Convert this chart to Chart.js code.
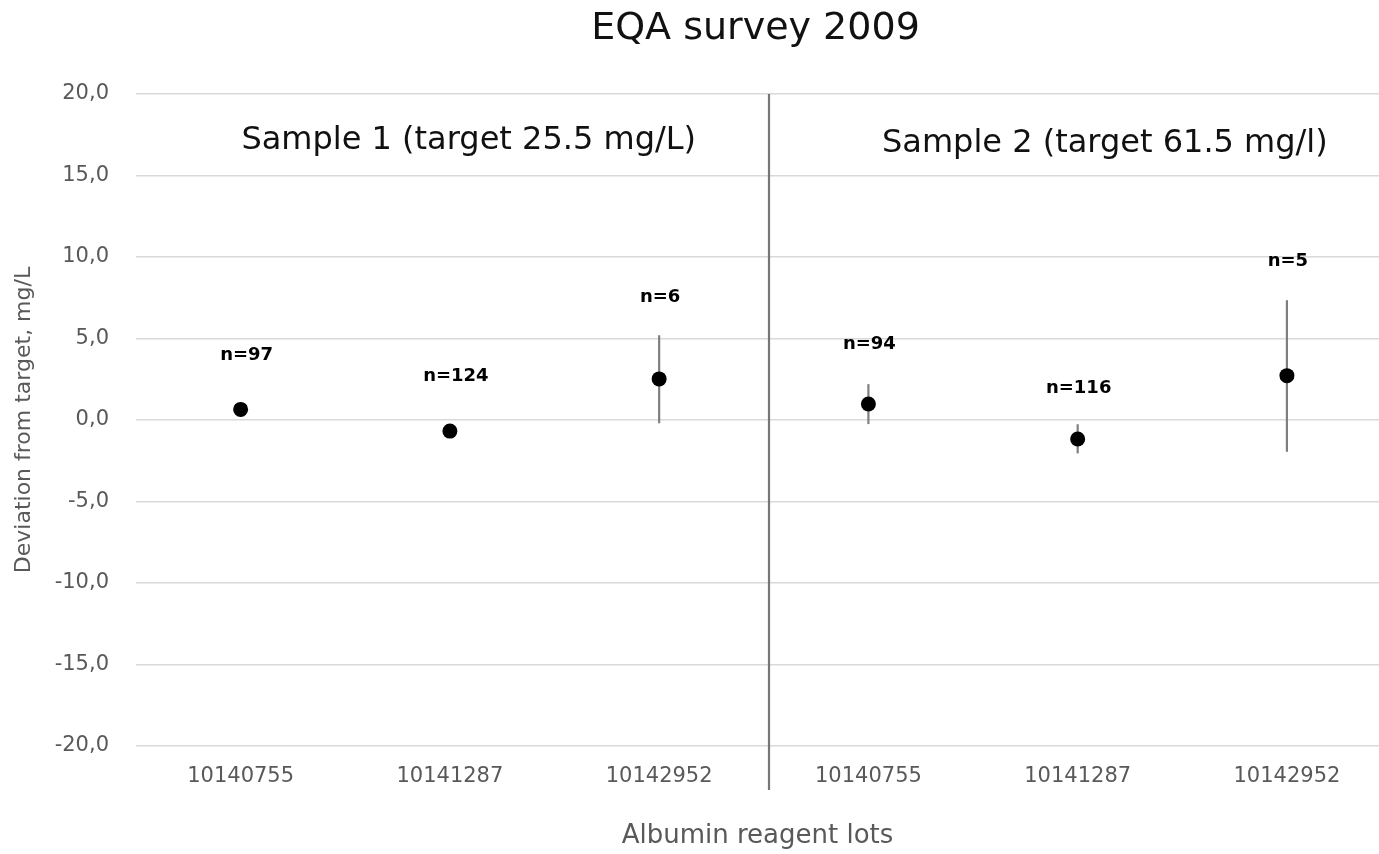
<!DOCTYPE html>
<html>
<head>
<meta charset="utf-8">
<title>EQA survey 2009</title>
<script src="https://cdn.jsdelivr.net/npm/chart.js@4.4.1/dist/chart.umd.min.js"></script>
<style>
  html, body { margin: 0; padding: 0; background: #fff; overflow: hidden; }
  #wrap { width: 1379px; height: 854px; }
</style>
</head>
<body>
<div id="wrap"><canvas id="eqaChart" width="1379" height="854"></canvas></div>
<script>
// Lotes de reactivo (eje x) y desviaciones
const lots = ['10140755', '10141287', '10142952', '10140755', '10141287', '10142952'];
const meanDeviation = [0.65, -0.68, 2.52, 0.98, -1.17, 2.72];
const upperBound = [0.9, -0.45, 5.2, 2.2, -0.26, 7.35];
const lowerBound = [0.4, -0.9, -0.2, -0.25, -2.05, -1.95];
const nLabels = ['n=97', 'n=124', 'n=6', 'n=94', 'n=116', 'n=5'];
const nLabelAt = [3.95, 2.65, 7.5, 4.65, 1.95, 9.75];
const sampleLabels = ['Sample 1 (target 25.5 mg/L)', 'Sample 2 (target 61.5 mg/l)'];
const yTicks = [-20, -15, -10, -5, 0, 5, 10, 15, 20];

const FONT = "'DejaVu Sans', sans-serif";
const axisGray = '#595959';

// línea divisoria, barras de error y etiquetas de texto
const extrasPlugin = {
    id: 'extras',
    beforeDatasetsDraw(chart) {
        const { ctx, chartArea } = chart;
        const x = chart.scales.x, y = chart.scales.y;
        ctx.save();
        ctx.strokeStyle = '#767676';
        ctx.lineWidth = 2.2;
        const sx = Math.round(x.getPixelForValue(2.525));
        ctx.beginPath();
        ctx.moveTo(sx, chartArea.top);
        ctx.lineTo(sx, chartArea.bottom + 44);
        ctx.stroke();

        ctx.strokeStyle = '#7f7f7f';
        ctx.lineWidth = 2.2;
        meanDeviation.forEach((_, i) => {
            const px = x.getPixelForValue(i);
            ctx.beginPath();
            ctx.moveTo(px, y.getPixelForValue(upperBound[i]));
            ctx.lineTo(px, y.getPixelForValue(lowerBound[i]));
            ctx.stroke();
        });
        ctx.restore();
    },
    afterDatasetsDraw(chart) {
        const { ctx, chartArea } = chart;
        const x = chart.scales.x, y = chart.scales.y;
        ctx.save();
        ctx.fillStyle = '#000';
        ctx.textAlign = 'center';
        ctx.textBaseline = 'middle';
        ctx.font = `bold 18px ${FONT}`;
        nLabels.forEach((txt, i) => {
            ctx.fillText(txt, x.getPixelForValue(i) + (i < 2 ? 6 : 1), y.getPixelForValue(nLabelAt[i]));
        });

        ctx.fillStyle = '#111';
        ctx.textBaseline = 'alphabetic';
        ctx.font = `32px ${FONT}`;
        ctx.fillText(sampleLabels[0], x.getPixelForValue(1.09), y.getPixelForValue(16.6));
        ctx.fillText(sampleLabels[1], x.getPixelForValue(4.13), y.getPixelForValue(16.45));

        ctx.font = `38px ${FONT}`;
        ctx.fillText('EQA survey 2009', (chartArea.left + chartArea.right) / 2 - 2, 39);
        ctx.restore();
    }
};

new Chart(document.getElementById('eqaChart'), {
    type: 'scatter',
    data: {
        datasets: [{
            label: 'Deviation',
            data: meanDeviation.map((v, i) => ({ x: i, y: v })),
            backgroundColor: '#000',
            borderColor: '#000',
            borderWidth: 0,
            pointRadius: 7.5,
            pointHoverRadius: 7.5,
        }]
    },
    options: {
        responsive: false,
        animation: false,
        layout: { autoPadding: false, padding: { top: 94, right: 0, left: 0, bottom: 0 } },
        plugins: {
            legend: { display: false },
            tooltip: { enabled: false },
            title: { display: false }
        },
        scales: {
            x: {
                type: 'linear',
                min: -0.5,
                max: 5.44,
                afterFit: scale => { scale.height = 108; },
                afterBuildTicks: scale => { scale.ticks = lots.map((_, i) => ({ value: i })); },
                ticks: {
                    callback: v => lots[v] ?? '',
                    color: axisGray,
                    font: { family: FONT, size: 21 },
                    padding: 18,
                    maxRotation: 0,
                    autoSkip: false
                },
                grid: { display: false, drawTicks: false },
                border: { display: false },
                title: {
                    display: true,
                    text: 'Albumin reagent lots',
                    color: axisGray,
                    font: { family: FONT, size: 26 },
                    padding: { top: 0, bottom: 2 }
                }
            },
            y: {
                min: -20,
                max: 20,
                afterFit: scale => { scale.width = 136; },
                afterBuildTicks: scale => { scale.ticks = yTicks.map(v => ({ value: v })); },
                ticks: {
                    callback: v => v.toFixed(1).replace('.', ','),
                    color: axisGray,
                    font: { family: FONT, size: 21 },
                    padding: 27
                },
                grid: { color: '#d9d9d9', lineWidth: 1.5, drawTicks: false },
                border: { display: false },
                title: {
                    display: true,
                    text: 'Deviation from target, mg/L',
                    color: axisGray,
                    font: { family: FONT, size: 22 },
                    padding: { top: 11, bottom: 0 }
                }
            }
        }
    },
    plugins: [extrasPlugin]
});
</script>
</body>
</html>
